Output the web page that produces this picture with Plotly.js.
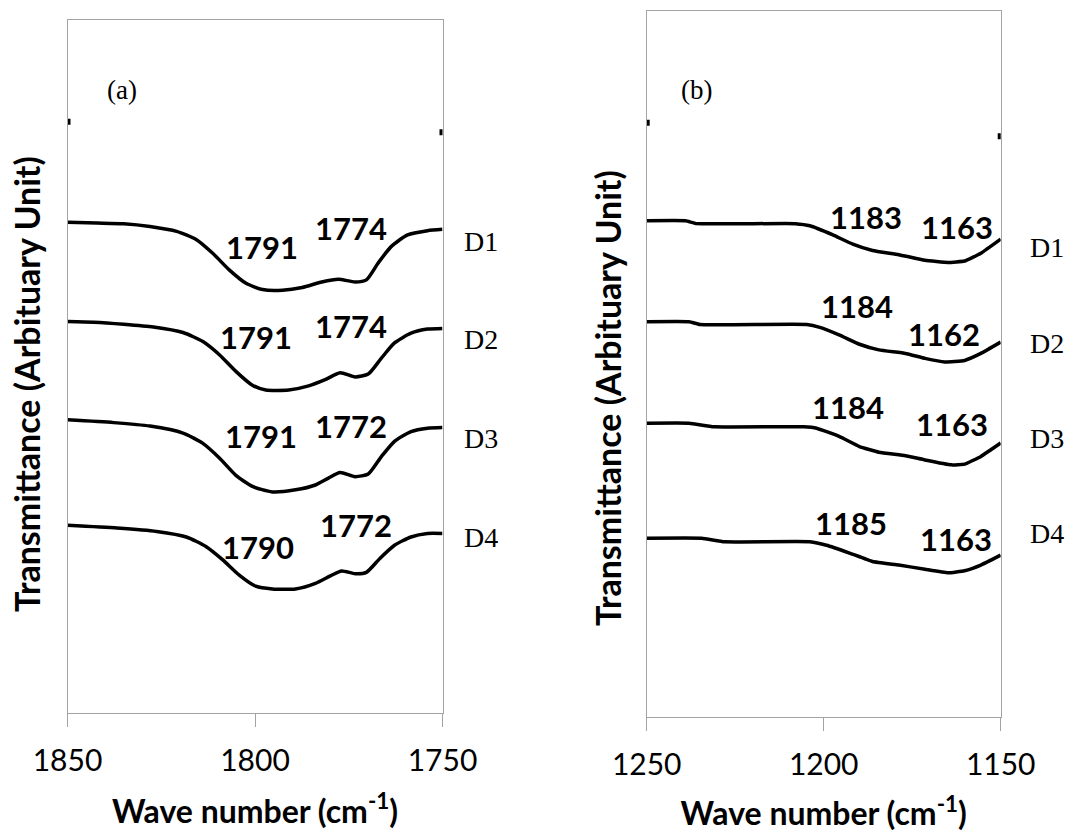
<!DOCTYPE html>
<html>
<head>
<meta charset="utf-8">
<script src="https://cdn.plot.ly/plotly-3.0.1.min.js"></script>
<style>
  html, body { margin: 0; padding: 0; background: #ffffff; }
  #chart { width: 1089px; height: 832px; }
</style>
</head>
<body>
<div id="chart"></div>
<script>
// ---------- Data (transmittance in arbitrary units) ----------
// Panel (a): 1850 - 1750 cm-1
const waveA_D1 = [1850, 1842.1, 1835.0, 1828.0, 1820.9, 1815.6, 1811.2, 1806.8, 1802.4, 1798.0, 1792.7, 1787.4, 1782.2, 1777.8, 1773.3, 1770.3, 1767.2, 1763.7, 1759.3, 1754.0, 1750];
const transA_D1 = [70.8, 70.7, 70.6, 70.2, 69.5, 68.3, 66.3, 63.9, 62.0, 61.1, 61.0, 61.4, 62.2, 62.6, 62.2, 62.5, 64.9, 67.3, 69.0, 69.6, 69.8];

const waveA_D2 = [1850, 1843.0, 1835.0, 1827.1, 1819.2, 1813.9, 1809.5, 1805.1, 1800.7, 1797.1, 1791.0, 1785.7, 1781.3, 1777.3, 1773.3, 1769.8, 1766.3, 1762.8, 1758.4, 1754.0, 1750];
const transA_D2 = [56.5, 56.4, 56.1, 55.7, 54.9, 53.6, 51.7, 49.3, 47.3, 46.6, 46.6, 47.2, 48.1, 49.1, 48.5, 48.9, 51.2, 53.4, 54.8, 55.4, 55.5];

const waveA_D3 = [1850, 1837.7, 1828.0, 1819.2, 1813.9, 1809.5, 1805.1, 1800.7, 1795.4, 1789.2, 1783.9, 1780.4, 1777.3, 1773.3, 1769.8, 1766.3, 1762.8, 1758.4, 1754.0, 1750];
const transA_D3 = [42.3, 41.9, 41.4, 40.4, 38.9, 36.8, 34.3, 32.7, 31.9, 32.2, 32.9, 33.9, 34.7, 34.1, 34.5, 37.0, 39.2, 40.6, 41.1, 41.2];

const waveA_D4 = [1850, 1836.8, 1826.2, 1818.3, 1813.0, 1808.6, 1804.2, 1799.8, 1795.4, 1789.2, 1783.9, 1779.5, 1776.9, 1773.3, 1770.3, 1766.7, 1762.8, 1758.4, 1754.0, 1750];
const transA_D4 = [27.1, 26.7, 26.2, 25.4, 24.0, 22.1, 19.9, 18.3, 17.9, 17.9, 18.7, 19.9, 20.5, 20.1, 20.3, 22.3, 24.2, 25.4, 25.9, 25.9];

// Panel (b): 1250 - 1150 cm-1
const waveB_D1 = [1250, 1239, 1236, 1208, 1203.9, 1197.4, 1191.8, 1186.2, 1178.8, 1171.4, 1164.9, 1160.2, 1155.6, 1150];
const transB_D1 = [70.3, 70.3, 69.9, 69.9, 69.6, 68.3, 67.0, 66.1, 65.5, 64.7, 64.4, 64.6, 65.7, 67.7];

const waveB_D2 = [1250, 1238, 1235, 1204.8, 1201.1, 1195.5, 1189.9, 1184.4, 1176.9, 1171.4, 1165.8, 1160.2, 1155.6, 1150];
const transB_D2 = [56.0, 56.0, 55.6, 55.6, 55.2, 54.1, 52.8, 52.0, 51.5, 50.8, 50.3, 50.5, 51.5, 53.1];

const waveB_D3 = [1250, 1238, 1231, 1205.7, 1202.0, 1195.5, 1189.9, 1184.4, 1176.9, 1171.4, 1163.9, 1160.2, 1155.6, 1150];
const transB_D3 = [41.6, 41.6, 41.1, 41.1, 40.9, 39.7, 38.3, 37.5, 37.0, 36.4, 35.7, 35.8, 36.9, 38.8];

const waveB_D4 = [1250, 1234.5, 1228.0, 1203.9, 1199.2, 1192.7, 1186.2, 1178.8, 1171.4, 1164.9, 1160.2, 1155.6, 1150];
const transB_D4 = [25.3, 25.3, 24.8, 24.8, 24.3, 23.2, 22.0, 21.5, 20.9, 20.4, 20.7, 21.5, 22.9];

// stray marker points at the top of each panel
const waveA_marks = [1850, 1750];
const transA_marks = [85.3, 83.8];
const waveB_marks = [1250, 1150];
const transB_marks = [84.2, 82.3];

// sample names and peak labels
const sampleNames = ["D1", "D2", "D3", "D4"];
const peakLabelsA = [["1791", "1774"], ["1791", "1774"], ["1791", "1772"], ["1790", "1772"]];
const peakLabelsB = [["1183", "1163"], ["1184", "1162"], ["1184", "1163"], ["1185", "1163"]];
const tickValsA = [1850, 1800, 1750];
const tickValsB = [1250, 1200, 1150];
const panelLabels = ["(a)", "(b)"];

// ---------- Layout helpers ----------
const W = 1089, H = 832;
const px = x => x / W;
const py = y => 1 - y / H;

const lineA = { color: "#000000", width: 3.5, shape: "spline", smoothing: 0.6 };
const lineB = { color: "#000000", width: 3.5, shape: "spline", smoothing: 0.35 };
const frameColor = "#a3a3a3";

const seriesA = [[waveA_D1, transA_D1], [waveA_D2, transA_D2], [waveA_D3, transA_D3], [waveA_D4, transA_D4]];
const seriesB = [[waveB_D1, transB_D1], [waveB_D2, transB_D2], [waveB_D3, transB_D3], [waveB_D4, transB_D4]];

const traces = [];
seriesA.forEach((s, i) => traces.push({
  x: s[0], y: s[1], xaxis: "x", yaxis: "y", mode: "lines", name: sampleNames[i],
  line: lineA, showlegend: false, hoverinfo: "x+y"
}));
seriesB.forEach((s, i) => traces.push({
  x: s[0], y: s[1], xaxis: "x2", yaxis: "y2", mode: "lines", name: sampleNames[i],
  line: lineB, showlegend: false, hoverinfo: "x+y"
}));
traces.push({ x: waveA_marks, y: transA_marks, xaxis: "x", yaxis: "y", mode: "markers",
  marker: { symbol: "square", size: 6, color: "#000" }, showlegend: false, cliponaxis: true });
traces.push({ x: waveB_marks, y: transB_marks, xaxis: "x2", yaxis: "y2", mode: "markers",
  marker: { symbol: "square", size: 6, color: "#000" }, showlegend: false, cliponaxis: true });

// label placement (pixel centres)
const peakPosA = [[[262, 247], [351, 228]], [[256, 337], [351, 326]], [[261, 436], [351, 426]], [[258, 547], [356, 525]]];
const peakPosB = [[[866, 217], [957, 227]], [[857, 306], [944, 334]], [[848, 407], [952, 424]], [[851, 523], [956, 539]]];
const dPosA = [[481, 242], [481, 339], [481, 438], [481, 537]];
const dPosB = [[1047, 247], [1047, 343], [1047, 438], [1047, 533]];

const annotations = [];
const peakFont = { family: "Lato, 'Open Sans', sans-serif", size: 31, color: "#000" };
const dFont = { family: "'Liberation Serif', 'Times New Roman', serif", size: 28, color: "#000" };

peakLabelsA.forEach((pair, i) => pair.forEach((t, j) => annotations.push({
  text: "<b>" + t + "</b>", xref: "paper", yref: "paper", x: px(peakPosA[i][j][0]), y: py(peakPosA[i][j][1]),
  xanchor: "center", yanchor: "middle", showarrow: false, font: peakFont
})));
peakLabelsB.forEach((pair, i) => pair.forEach((t, j) => annotations.push({
  text: "<b>" + t + "</b>", xref: "paper", yref: "paper", x: px(peakPosB[i][j][0]), y: py(peakPosB[i][j][1]),
  xanchor: "center", yanchor: "middle", showarrow: false, font: peakFont
})));
sampleNames.forEach((n, i) => {
  annotations.push({ text: n, xref: "paper", yref: "paper", x: px(dPosA[i][0]), y: py(dPosA[i][1]),
    xanchor: "center", yanchor: "middle", showarrow: false, font: dFont });
  annotations.push({ text: n, xref: "paper", yref: "paper", x: px(dPosB[i][0]), y: py(dPosB[i][1]),
    xanchor: "center", yanchor: "middle", showarrow: false, font: dFont });
});
annotations.push({ text: panelLabels[0], xref: "paper", yref: "paper", x: px(122), y: py(90),
  xanchor: "center", yanchor: "middle", showarrow: false, font: { ...dFont, size: 27 } });
annotations.push({ text: panelLabels[1], xref: "paper", yref: "paper", x: px(696), y: py(90),
  xanchor: "center", yanchor: "middle", showarrow: false, font: { ...dFont, size: 27 } });

const yTitleFont = { family: "Lato, 'Open Sans', sans-serif", size: 34, color: "#000" };
annotations.push({ text: "<b>Transmittance (Arbituary Unit)</b>", xref: "paper", yref: "paper",
  x: px(26), y: py(384), textangle: -90, xanchor: "center", yanchor: "middle", showarrow: false, font: yTitleFont });
annotations.push({ text: "<b>Transmittance (Arbituary Unit)</b>", xref: "paper", yref: "paper",
  x: px(607), y: py(398), textangle: -90, xanchor: "center", yanchor: "middle", showarrow: false, font: yTitleFont });

const tickFont = { family: "Lato, 'Open Sans', sans-serif", size: 30, color: "#000" };
const xTitle = { text: "<b>Wave number (cm<sup>-1</sup>)</b>", font: { family: "Lato, 'Open Sans', sans-serif", size: 32, color: "#000" }, standoff: 24 };

const xBase = {
  autorange: false, showgrid: false, zeroline: false, showline: true, mirror: true,
  linecolor: frameColor, linewidth: 1, ticks: "outside", ticklen: 13, tickwidth: 1,
  tickcolor: frameColor, tickfont: tickFont, ticklabelstandoff: 8, automargin: false
};
const yBase = {
  autorange: false, range: [0, 100], showgrid: false, zeroline: false, showline: true, mirror: true,
  linecolor: frameColor, linewidth: 1, ticks: "", showticklabels: false, automargin: false
};

const layout = {
  width: W, height: H,
  margin: { l: 0, r: 0, t: 0, b: 0, pad: 0 },
  paper_bgcolor: "#ffffff", plot_bgcolor: "#ffffff",
  showlegend: false,
  xaxis: { ...xBase, domain: [px(67.5), px(442.5)], range: [1850, 1750], tickvals: tickValsA,
    ticktext: tickValsA.map(String), anchor: "y", title: xTitle },
  yaxis: { ...yBase, domain: [py(713), py(20)], anchor: "x" },
  xaxis2: { ...xBase, domain: [px(646.7), px(1000.7)], range: [1250, 1150], tickvals: tickValsB,
    ticktext: tickValsB.map(String), anchor: "y2", title: xTitle },
  yaxis2: { ...yBase, domain: [py(716.7), py(11.3)], anchor: "x2" },
  annotations: annotations
};

Plotly.newPlot("chart", traces, layout, { staticPlot: true, displayModeBar: false });
</script>
</body>
</html>
